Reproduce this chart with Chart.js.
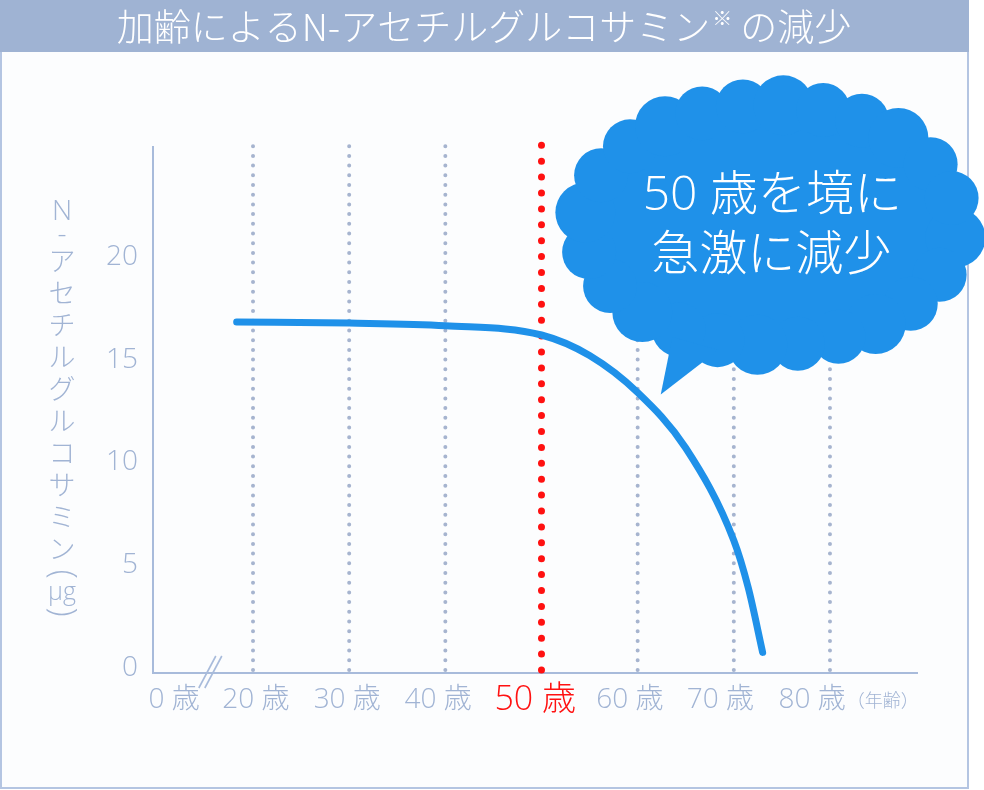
<!DOCTYPE html>
<html><head><meta charset="utf-8">
<script src="https://cdn.jsdelivr.net/npm/chart.js@4"></script>
<style>html,body{margin:0;padding:0;background:#fff}#wrap{width:984px;height:790px}</style>
</head><body><div id="wrap"><canvas id="c" width="984" height="790"></canvas></div>
<script>
// ---- data ----
const TITLE_MAIN = "加齢によるN-アセチルグルコサミン";
const TITLE_NOTE = "※";
const TITLE_TAIL = " の減少";
const Y_TITLE = ["N","-","ア","セ","チ","ル","グ","ル","コ","サ","ミ","ン","(","μg",")"];
const AGE_TICKS = [0,20,30,40,50,60,70,80];
const AGE_UNIT = "歳";
const AGE_AXIS_NOTE = "（年齢）";
const Y_TICKS = [0,5,10,15,20];
const CURVE_AGES = [18.3,30,40,50,55,60,65,70,71.5,73];
const CURVE_VALUES = [16.83,16.78,16.65,16.2,15.2,13.4,10.7,6.2,3.9,0.75];
const GRID_AGES = [20,30,40,50,60,70,80];
const HIGHLIGHT_AGE = 50;
const CALLOUT_LINES = ["50 歳を境に","急激に減少"];

// ---- styles / layout ----
const CJK = '"Noto Sans CJK JP","Noto Sans",sans-serif';
const FONT = '"Open Sans","Noto Sans CJK JP",sans-serif';
const AXIS_COLOR = '#a8bbdb';
const TEXT_COLOR = '#a1b4d4';
const DOT_COLOR = '#a6b4cf';
const RED = '#ff1111';
const BLUE = '#1f91e9';
// label anchor positions on the x scale (the artwork sets labels slightly left of the gridlines,
// and the "0 歳" label after the axis break)
const X_LABEL_ANCHORS = [11.8, 20.3, 29.8, 39.25, 49.35, 59.2, 68.6, 78.15];
const NOTE_ANCHOR = 85.5;
const xLabels = AGE_TICKS.map(a => a + ' ' + AGE_UNIT).concat([AGE_AXIS_NOTE]);
const xAnchors = X_LABEL_ANCHORS.concat([NOTE_ANCHOR]);
const HI_INDEX = AGE_TICKS.indexOf(HIGHLIGHT_AGE);
const NOTE_INDEX = xLabels.length - 1;

const deco = {
  id: 'deco',
  beforeDraw(chart) {
    const ctx = chart.ctx;
    ctx.save();
    // frame
    ctx.fillStyle = '#fcfdfe';
    ctx.fillRect(0, 0, 969, 789);
    ctx.strokeStyle = '#b4c5e2';
    ctx.lineWidth = 2;
    ctx.strokeRect(1, 1, 967, 787);
    // title bar
    ctx.fillStyle = '#9fb3d3';
    ctx.fillRect(0, 0, 969, 52);
    ctx.fillStyle = '#ffffff';
    ctx.textBaseline = 'middle';
    ctx.textAlign = 'left';
    const big = '300 37px ' + CJK, small = '300 20px ' + CJK;
    ctx.font = big; const w1 = ctx.measureText(TITLE_MAIN).width; const w3 = ctx.measureText(TITLE_TAIL).width;
    ctx.font = small; const w2 = ctx.measureText(TITLE_NOTE).width;
    let x = 484 - (w1 + w2 + w3 + 2) / 2;
    ctx.font = big; ctx.fillText(TITLE_MAIN, x, 27); x += w1;
    ctx.font = small; ctx.fillText(TITLE_NOTE, x + 2, 18); x += w2 + 2;
    ctx.font = big; ctx.fillText(TITLE_TAIL, x, 27);
    // vertical y-axis title
    ctx.fillStyle = TEXT_COLOR;
    ctx.textAlign = 'center';
    const heights = {"N":26,"-":20,"(":18,"μg":20,")":18};
    let y = 199;
    Y_TITLE.forEach(ch => {
      const h = heights[ch] || 32;
      const cy = y + h / 2;
      ctx.font = '300 27px ' + CJK;
      if (ch === '(' || ch === ')') {
        ctx.save(); ctx.translate(62, cy); ctx.rotate(Math.PI / 2);
        ctx.font = '300 34px ' + FONT;
        ctx.fillText(ch, 0, 0); ctx.restore();
      } else {
        if (ch === 'μg') ctx.font = '300 25px ' + FONT;
        if (ch === 'N' || ch === '-') ctx.font = '300 28px ' + FONT;
        ctx.fillText(ch, 62, cy);
      }
      y += h;
    });
    ctx.restore();
  },
  beforeDatasetsDraw(chart) {
    const ctx = chart.ctx, xs = chart.scales.x, ys = chart.scales.y;
    const bottom = ys.getPixelForValue(ys.min), top = chart.chartArea.top;
    ctx.save();
    ctx.lineCap = 'round';
    GRID_AGES.forEach(a => {
      const px = xs.getPixelForValue(a);
      const hi = a === HIGHLIGHT_AGE;
      ctx.strokeStyle = hi ? RED : DOT_COLOR;
      ctx.lineWidth = hi ? 7 : 4;
      ctx.setLineDash(hi ? [0, 15.9] : [0, 9.7]);
      ctx.beginPath();
      ctx.moveTo(px, bottom - 3);
      ctx.lineTo(px, top - (hi ? 5 : 2));
      ctx.stroke();
    });
    // axis break marks
    ctx.setLineDash([]);
    ctx.lineCap = 'butt';
    ctx.strokeStyle = AXIS_COLOR;
    ctx.lineWidth = 1.6;
    const bx = xs.getPixelForValue(15.3), by = xs.top;
    [-9, -3].forEach(dx => {
      ctx.beginPath();
      ctx.moveTo(bx + dx, by + 15);
      ctx.lineTo(bx + dx + 17, by - 17);
      ctx.stroke();
    });
    ctx.restore();
  },
  afterDatasetsDraw(chart, args, opts) {
    const ctx = chart.ctx, xs = chart.scales.x, ys = chart.scales.y;
    const cx = xs.getPixelForValue(opts.centerAge), cy = ys.getPixelForValue(opts.centerValue);
    const tx = xs.getPixelForValue(opts.tipAge), ty = ys.getPixelForValue(opts.tipValue);
    const rx = 186, ry = 120, r = 27;
    ctx.save();
    ctx.fillStyle = BLUE;
    ctx.beginPath(); ctx.ellipse(cx, cy, rx, ry, 0, 0, Math.PI * 2); ctx.fill();
    const pts = []; const N = 720; let L = 0; let prev = [cx + rx, cy];
    for (let i = 1; i <= N; i++) {
      const t = i / N * Math.PI * 2; const p = [cx + rx * Math.cos(t), cy + ry * Math.sin(t)];
      L += Math.hypot(p[0] - prev[0], p[1] - prev[1]); pts.push([L, p]); prev = p;
    }
    const nb = 24; let k = 0;
    for (let b = 0; b < nb; b++) {
      const target = (b + 0.3) / nb * L;
      while (k < pts.length - 1 && pts[k][0] < target) k++;
      const p = pts[k][1];
      ctx.beginPath(); ctx.arc(p[0], p[1], r + (b % 3 === 0 ? 3 : 0), 0, Math.PI * 2); ctx.fill();
    }
    ctx.beginPath();
    ctx.moveTo(cx - 98, cy + 112);
    ctx.lineTo(cx - 52, cy + 125);
    ctx.lineTo(tx, ty);
    ctx.closePath(); ctx.fill();
    ctx.fillStyle = '#ffffff';
    ctx.font = '300 48px ' + FONT;
    ctx.textAlign = 'center'; ctx.textBaseline = 'middle';
    ctx.fillText(CALLOUT_LINES[0], cx + 2, cy - 29);
    ctx.fillText(CALLOUT_LINES[1], cx + 1, cy + 31);
    ctx.restore();
  }
};

new Chart(document.getElementById('c'), {
  type: 'line',
  data: {
    datasets: [{
      data: CURVE_AGES.map((a, i) => ({x: a, y: CURVE_VALUES[i]})),
      borderColor: BLUE,
      borderWidth: 7,
      borderCapStyle: 'round',
      borderJoinStyle: 'round',
      pointRadius: 0,
      cubicInterpolationMode: 'monotone',
      clip: false
    }]
  },
  options: {
    responsive: false,
    devicePixelRatio: 1,
    animation: false,
    layout: {padding: {left: 0, right: 67, top: 147, bottom: 57}},
    plugins: {
      legend: {display: false},
      tooltip: {enabled: false},
      title: {display: false},
      deco: {centerAge: 73.8, centerValue: 21.55, tipAge: 62.4, tipValue: 13.3}
    },
    scales: {
      x: {
        type: 'linear',
        min: 9.6, max: 89.05,
        afterBuildTicks: s => { s.ticks = xAnchors.map(v => ({value: v})); },
        afterFit: s => { s.height = 60; },
        grid: {display: false, drawTicks: false},
        border: {display: true, color: AXIS_COLOR, width: 2},
        ticks: {
          autoSkip: false, maxRotation: 0, padding: 11,
          callback: (v, i) => xLabels[i],
          color: c => c.index === HI_INDEX ? RED : TEXT_COLOR,
          font: c => c.index === NOTE_INDEX
            ? {family: CJK, weight: '300', lineHeight: '32px', size: 18}
            : {family: FONT, weight: '300', lineHeight: '32px', size: c.index === HI_INDEX ? 34 : 28}
        }
      },
      y: {
        min: -0.25, max: 25.35,
        afterBuildTicks: s => { s.ticks = Y_TICKS.map(v => ({value: v})); },
        afterFit: s => { s.width = 153; },
        grid: {display: false, drawTicks: false},
        border: {display: true, color: AXIS_COLOR, width: 2},
        ticks: {padding: 15, color: TEXT_COLOR, font: {family: FONT, size: 28, weight: '300'}}
      }
    }
  },
  plugins: [deco]
});
</script>
</body></html>
